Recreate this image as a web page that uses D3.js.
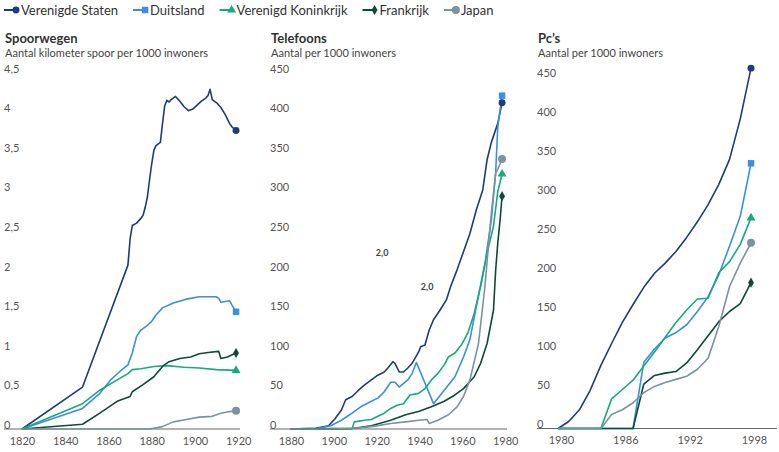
<!DOCTYPE html>
<html>
<head>
<meta charset="utf-8">
<script src="https://cdn.jsdelivr.net/npm/d3@7"></script>
<style>
  body { margin: 0; background: #fff; }
  text { font-family: Lato, "Open Sans", sans-serif; }
</style>
</head>
<body>
<svg width="779" height="452"></svg>
<script>
const countries = ["Verenigde Staten", "Duitsland", "Verenigd Koninkrijk", "Frankrijk", "Japan"];

// spoorwegen, km spoor per 1000 inwoners: [jaar, waarde]
const railUS = [[1820,0],[1848,0.53],[1869,2.07],[1870,2.4],[1871,2.57],[1873,2.6],[1875,2.66],[1876,2.7],[1877,2.8],[1878,2.93],[1879,3.15],[1880,3.35],[1881,3.52],[1882,3.58],[1884,3.62],[1885,3.86],[1886,4.08],[1887,4.15],[1888,4.13],[1889,4.16],[1891,4.2],[1893,4.14],[1895,4.07],[1897,4.02],[1899,4.04],[1901,4.09],[1903,4.14],[1905,4.18],[1906,4.21],[1907,4.29],[1908,4.16],[1910,4.12],[1912,4.06],[1914,3.97],[1916,3.86],[1917,3.82],[1919,3.77]];
const railDE = [[1820,0],[1848,0.26],[1856,0.45],[1861,0.62],[1865,0.72],[1869,0.81],[1871,0.96],[1873,1.17],[1875,1.25],[1878,1.31],[1880,1.36],[1882,1.44],[1885,1.53],[1890,1.59],[1896,1.64],[1902,1.67],[1910,1.67],[1911,1.65],[1912,1.6],[1914,1.61],[1916,1.62],[1917,1.57],[1919,1.48]];
const railUK = [[1820,0],[1848,0.32],[1856,0.49],[1864,0.62],[1869,0.7],[1871,0.75],[1875,0.76],[1881,0.79],[1887,0.8],[1895,0.78],[1902,0.77],[1910,0.75],[1919,0.74]];
const railFR = [[1820,0],[1848,0.06],[1856,0.2],[1864,0.35],[1870,0.41],[1871,0.47],[1876,0.56],[1881,0.66],[1885,0.79],[1888,0.85],[1893,0.89],[1898,0.91],[1902,0.95],[1907,0.97],[1911,0.98],[1912,0.89],[1915,0.91],[1919,0.96]];
const railJP = [[1820,0],[1879,0],[1885,0.03],[1890,0.09],[1896,0.12],[1902,0.15],[1908,0.16],[1912,0.2],[1916,0.22],[1919,0.23]];

// telefoons per 1000 inwoners
const telUS = [[1880,0],[1892,1],[1898,4],[1901,13],[1904,24],[1906,37],[1909,41],[1912,49],[1915,56],[1918,62],[1921,68],[1924,72],[1926,78],[1928,85],[1929,83],[1931,72],[1933,72],[1935,77],[1937,83],[1940,97],[1941,104],[1943,106],[1945,125],[1947,138],[1950,150],[1953,163],[1955,180],[1958,201],[1961,224],[1964,247],[1967,277],[1970,302],[1972,340],[1974,362],[1977,386],[1979,412]];
const telDE = [[1880,0],[1893,1],[1899,4],[1904,11],[1909,20],[1913,28],[1918,35],[1921,39],[1924,47],[1927,59],[1929,59],[1931,53],[1935,62],[1937,70],[1939,84],[1947,32],[1952,49],[1957,66],[1961,91],[1964,113],[1967,155],[1971,209],[1974,264],[1976,323],[1977,382],[1979,421]];
const telUK = [[1880,0],[1909,0],[1910,9],[1915,11],[1918,12],[1921,16],[1924,20],[1927,26],[1930,30],[1933,32],[1936,43],[1940,45],[1943,51],[1946,62],[1949,70],[1952,81],[1954,91],[1957,96],[1960,106],[1963,121],[1966,146],[1969,180],[1972,222],[1975,256],[1977,300],[1979,322]];
const telFR = [[1880,0],[1900,0.5],[1910,1],[1918,4],[1927,11],[1934,18],[1940,22],[1946,28],[1952,35],[1957,43],[1961,51],[1966,66],[1969,83],[1972,108],[1975,150],[1976,200],[1977,235],[1978,262],[1979,294]];
const telJP = [[1880,0],[1900,0],[1910,1],[1918,3],[1927,7],[1934,9],[1940,11],[1944,12],[1945,7],[1949,11],[1954,18],[1958,28],[1961,41],[1964,62],[1968,108],[1971,180],[1974,273],[1976,323],[1977,328],[1979,341]];

// pc's per 1000 inwoners, 1980-1998
const pcYears = d3.range(1980, 1999);
const pcUS = [0,9,24,49,81,109,136,159,181,199,212,227,245,265,287,313,345,397,462];
const pcDE = [0,0,0,0,0,0,0,0,85,102,116,123,133,150,169,197,234,272,340];
const pcUK = [0,0,0,0,0,38,50,62,80,98,117,136,152,166,167,200,214,236,270];
const pcFR = [0,0,0,0,0,0,0,0,57,68,71,73,84,101,119,137,150,160,187];
const pcJP = [0,0,0,0,0,18,24,33,46,54,59,63,67,76,90,131,182,212,238];

const railXTicks = [1820, 1840, 1860, 1880, 1900, 1920];
const telXTicks = [1880, 1900, 1920, 1940, 1960, 1980];
const pcXTicks = [1980, 1986, 1992, 1998];
const railYTicks = [0, 0.5, 1, 1.5, 2, 2.5, 3, 3.5, 4, 4.5];
const countYTicks = [0, 50, 100, 150, 200, 250, 300, 350, 400, 450];

const notes = [{ label: "2,0", year: 1923, value: 222 }, { label: "2,0", year: 1944, value: 180 }];

const colors = ["#1e3c7c", "#3a8ee8", "#17a97f", "#0e4a39", "#7b939d"];
const symbols = [d3.symbolCircle, d3.symbolSquare, d3.symbolTriangle, d3.symbolDiamond, d3.symbolCircle];
const symSize = [38, 42, 34, 30, 50];

const toPairs = (vals) => vals.map((v, i) => [pcYears[i], v]);
const comma = (v) => String(v).replace(".", ",");

const panels = [
  { title: "Spoorwegen", sub: "Aantal kilometer spoor per 1000 inwoners",
    series: [railUS, railDE, railUK, railFR, railJP],
    xDom: [1820, 1920], xRange: [22, 238.2], yDom: [0, 4.5], yRange: [429, 72.7],
    xTicks: railXTicks, yTicks: railYTicks, left: 4, right: 240, labelDx: 0 },
  { title: "Telefoons", sub: "Aantal per 1000 inwoners",
    series: [telUS, telDE, telUK, telFR, telJP],
    xDom: [1880, 1980], xRange: [290, 504.2], yDom: [0, 450], yRange: [429, 72.7],
    xTicks: telXTicks, yTicks: countYTicks, left: 270, right: 507, labelDx: 1, notes: notes },
  { title: "Pc\u2019s", sub: "Aantal per 1000 inwoners",
    series: [pcUS, pcDE, pcUK, pcFR, pcJP].map(toPairs),
    xDom: [1980, 1998], xRange: [558, 751], yDom: [0, 450], yRange: [428.5, 77.5],
    xTicks: pcXTicks, yTicks: countYTicks, left: 537, right: 777, labelDx: 3 }
];

const svg = d3.select("svg");

panels.forEach((p) => {
  const x = d3.scaleLinear().domain(p.xDom).range(p.xRange);
  const y = d3.scaleLinear().domain(p.yDom).range(p.yRange);
  const g = svg.append("g");

  g.append("text").attr("x", p.left + 1).attr("y", 43)
    .attr("font-size", 13).attr("font-weight", 700).attr("fill", "#333").text(p.title);
  g.append("text").attr("x", p.left + 1).attr("y", 57)
    .attr("font-size", 11).attr("fill", "#444").text(p.sub);

  const yAxis = g.append("g").attr("transform", `translate(${p.left},0)`)
    .call(d3.axisRight(y).tickValues(p.yTicks).tickSize(0).tickPadding(0).tickFormat(comma));
  yAxis.select(".domain").remove();
  yAxis.selectAll("text").attr("font-size", 11).attr("fill", "#555").attr("dy", "-0.05em");

  const xAxis = g.append("g").attr("transform", `translate(0,${y(0)})`)
    .call(d3.axisBottom(x).tickValues(p.xTicks).tickSize(0).tickPadding(8).tickFormat(d3.format("d")));
  xAxis.select(".domain").remove();
  xAxis.selectAll("text").attr("font-size", 11).attr("fill", "#555").attr("dx", p.labelDx);

  g.append("line").attr("x1", p.left).attr("x2", p.right)
    .attr("y1", y(0)).attr("y2", y(0)).attr("stroke", "#666").attr("stroke-width", 1);

  const line = d3.line().x((d) => x(d[0])).y((d) => y(d[1]));

  p.series.forEach((s, i) => {
    g.append("path").datum(s).attr("d", line)
      .attr("fill", "none").attr("stroke", colors[i]).attr("stroke-width", 1.6)
      .attr("stroke-linejoin", "round");
  });
  p.series.forEach((s, i) => {
    const last = s[s.length - 1];
    g.append("path")
      .attr("d", d3.symbol().type(symbols[i]).size(symSize[i]))
      .attr("transform", `translate(${x(last[0])},${y(last[1])})`)
      .attr("fill", colors[i]);
  });

  if (p.notes) {
    g.selectAll(".note").data(p.notes).join("text")
      .attr("x", (d) => x(d.year)).attr("y", (d) => y(d.value))
      .attr("dy", "0.35em").attr("text-anchor", "middle")
      .attr("font-size", 9).attr("font-weight", 700).attr("fill", "#444")
      .text((d) => d.label);
  }
});

// legenda
const legend = svg.append("g");
let lx = 4;
countries.forEach((c, i) => {
  const item = legend.append("g").attr("transform", `translate(${lx},10)`);
  item.append("line").attr("x1", 0).attr("x2", 13).attr("stroke", colors[i]).attr("stroke-width", 2);
  item.append("path").attr("d", d3.symbol().type(symbols[i]).size(symSize[i]))
    .attr("transform", "translate(12,0)").attr("fill", colors[i]);
  const t = item.append("text").attr("x", 17).attr("dy", "0.35em")
    .attr("font-size", 13).attr("fill", "#333").text(c);
  lx += 17 + t.node().getComputedTextLength() + 15;
});
</script>
</body>
</html>
